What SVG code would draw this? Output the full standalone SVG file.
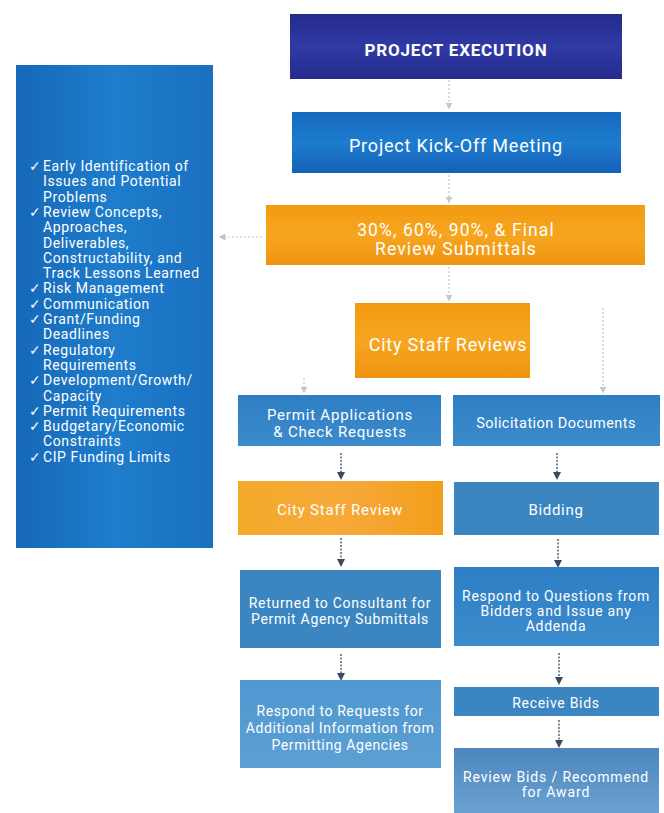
<svg xmlns="http://www.w3.org/2000/svg" width="664" height="813" viewBox="0 0 664 813">
<style>
.t{font-family:Roboto,"Liberation Sans",sans-serif;fill:#fff;text-anchor:middle;letter-spacing:0.7px}
.b{font-size:18px;letter-spacing:0.8px}
.s{font-size:14.5px;letter-spacing:0.45px}
.l{font-family:Roboto,"Liberation Sans",sans-serif;fill:#fff;font-size:14px;letter-spacing:0.6px}
.c{fill:none;stroke:#3b4a62;stroke-width:1.3;stroke-dasharray:2 1.5}
.f{fill:none;stroke:#9aa3b0;stroke-width:1.2;stroke-dasharray:2 2;opacity:0.6}
</style>
<defs>
<marker id="ah" markerWidth="8" markerHeight="8" refX="4" refY="4" orient="auto" markerUnits="userSpaceOnUse"><path d="M0,0 L8,4 L0,8 z" fill="#3b4a62"/></marker>
<marker id="af" markerWidth="7" markerHeight="7" refX="3.5" refY="3.5" orient="auto" markerUnits="userSpaceOnUse"><path d="M0,0 L7,3.5 L0,7 z" fill="#9aa3b0"/></marker>
<linearGradient id="gDark" x1="0" y1="0" x2="0" y2="1"><stop offset="0" stop-color="#252b8c"/><stop offset="0.5" stop-color="#2f3aa6"/><stop offset="1" stop-color="#252b8c"/></linearGradient>
<linearGradient id="gBlue" x1="0" y1="0" x2="0" y2="1"><stop offset="0" stop-color="#1668be"/><stop offset="0.5" stop-color="#1d7ccd"/><stop offset="1" stop-color="#1660b8"/></linearGradient>
<linearGradient id="gOr" x1="0" y1="0" x2="0" y2="1"><stop offset="0" stop-color="#f29a12"/><stop offset="0.5" stop-color="#f7a51f"/><stop offset="1" stop-color="#ef9410"/></linearGradient>
<linearGradient id="gOr2" x1="0" y1="0" x2="1" y2="0"><stop offset="0" stop-color="#f3aa2a"/><stop offset="0.5" stop-color="#f6a93a"/><stop offset="1" stop-color="#f39e1b"/></linearGradient>
<linearGradient id="gPanel" x1="0" y1="0" x2="1" y2="0"><stop offset="0" stop-color="#1668b8"/><stop offset="0.5" stop-color="#1e7dcc"/><stop offset="1" stop-color="#1a70bf"/></linearGradient>
<linearGradient id="gMid" x1="0" y1="0" x2="0" y2="1"><stop offset="0" stop-color="#2e7ec4"/><stop offset="1" stop-color="#3b8bcc"/></linearGradient>
<linearGradient id="gLight" x1="0" y1="0" x2="0" y2="1"><stop offset="0" stop-color="#4f98cf"/><stop offset="1" stop-color="#5c9fd3"/></linearGradient>
<linearGradient id="gGrey" x1="0" y1="0" x2="0" y2="1"><stop offset="0" stop-color="#4d86bd"/><stop offset="1" stop-color="#6aa2d2"/></linearGradient>
</defs>

<g id="connectors">
<line class="f" x1="262" y1="237" x2="222" y2="237" marker-end="url(#af)"/>
<line class="f" x1="449" y1="80" x2="449" y2="106" marker-end="url(#af)"/>
<line class="f" x1="449" y1="175" x2="449" y2="200" marker-end="url(#af)"/>
<line class="f" x1="449" y1="267" x2="449" y2="298" marker-end="url(#af)"/>
<line class="f" x1="304" y1="378" x2="304" y2="390" marker-end="url(#af)"/>
<line class="f" x1="603" y1="308" x2="603" y2="390" marker-end="url(#af)"/>
<line class="c" x1="341" y1="453" x2="341" y2="476" marker-end="url(#ah)"/>
<line class="c" x1="341" y1="538" x2="341" y2="563" marker-end="url(#ah)"/>
<line class="c" x1="341" y1="654" x2="341" y2="677" marker-end="url(#ah)"/>
<line class="c" x1="557" y1="453" x2="557" y2="476" marker-end="url(#ah)"/>
<line class="c" x1="558" y1="539" x2="558" y2="564" marker-end="url(#ah)"/>
<line class="c" x1="559" y1="653" x2="559" y2="681" marker-end="url(#ah)"/>
<line class="c" x1="559" y1="720" x2="559" y2="744" marker-end="url(#ah)"/>
</g>

<g id="panel">
<rect x="16" y="65" width="197" height="483" fill="url(#gPanel)"/>
<text class="l">
<tspan x="29" y="171">✓</tspan><tspan x="43" y="171">Early Identification of</tspan>
<tspan x="43" y="186.3">Issues and Potential</tspan>
<tspan x="43" y="201.6">Problems</tspan>
<tspan x="29" y="216.9">✓</tspan><tspan x="43" y="216.9">Review Concepts,</tspan>
<tspan x="43" y="232.2">Approaches,</tspan>
<tspan x="43" y="247.5">Deliverables,</tspan>
<tspan x="43" y="262.8">Constructability, and</tspan>
<tspan x="43" y="278.1">Track Lessons Learned</tspan>
<tspan x="29" y="293.4">✓</tspan><tspan x="43" y="293.4">Risk Management</tspan>
<tspan x="29" y="308.7">✓</tspan><tspan x="43" y="308.7">Communication</tspan>
<tspan x="29" y="324">✓</tspan><tspan x="43" y="324">Grant/Funding</tspan>
<tspan x="43" y="339.3">Deadlines</tspan>
<tspan x="29" y="354.6">✓</tspan><tspan x="43" y="354.6">Regulatory</tspan>
<tspan x="43" y="369.9">Requirements</tspan>
<tspan x="29" y="385.2">✓</tspan><tspan x="43" y="385.2">Development/Growth/</tspan>
<tspan x="43" y="400.5">Capacity</tspan>
<tspan x="29" y="415.8">✓</tspan><tspan x="43" y="415.8">Permit Requirements</tspan>
<tspan x="29" y="431.1">✓</tspan><tspan x="43" y="431.1">Budgetary/Economic</tspan>
<tspan x="43" y="446.4">Constraints</tspan>
<tspan x="29" y="461.7">✓</tspan><tspan x="43" y="461.7">CIP Funding Limits</tspan>
</text>
</g>

<g id="execution">
<rect x="290" y="14" width="332" height="65" fill="url(#gDark)"/>
<text class="t" x="456" y="56" font-size="17" font-weight="bold" style="letter-spacing:0.8px">PROJECT EXECUTION</text>
</g>

<g id="kickoff">
<rect x="292" y="112" width="329" height="61" fill="url(#gBlue)"/>
<text class="t b" x="456" y="152">Project Kick-Off Meeting</text>
</g>

<g id="submittals">
<rect x="266" y="205" width="379" height="60" fill="url(#gOr)"/>
<text class="t" font-size="17.5" style="letter-spacing:1.1px"><tspan x="456" y="236">30%, 60%, 90%, &amp; Final</tspan><tspan x="456" y="254.5">Review Submittals</tspan></text>
</g>

<g id="cityreviews">
<rect x="355" y="303" width="175" height="75" fill="url(#gOr)"/>
<text class="t b" x="448" y="351">City Staff Reviews</text>
</g>

<g id="permitapps">
<rect x="238" y="395" width="203" height="51" fill="url(#gMid)"/>
<text class="t" font-size="15" style="letter-spacing:0.8px"><tspan x="340" y="420">Permit Applications</tspan><tspan x="340" y="437">&amp; Check Requests</tspan></text>
</g>

<g id="solicitation">
<rect x="453" y="395" width="207" height="51" fill="url(#gMid)"/>
<text class="t s" x="556" y="428">Solicitation Documents</text>
</g>

<g id="cityreview">
<rect x="238" y="481" width="205" height="54" fill="url(#gOr2)"/>
<text class="t" font-size="15" x="340" y="515" style="letter-spacing:0.8px">City Staff Review</text>
</g>

<g id="bidding">
<rect x="454" y="482" width="205" height="53" fill="#3b86c1"/>
<text class="t" font-size="15" x="556" y="515">Bidding</text>
</g>

<g id="returned">
<rect x="240" y="570" width="201" height="78" fill="#3b86c1"/>
<text class="t" font-size="14"><tspan x="340" y="608">Returned to Consultant for</tspan><tspan x="340" y="624">Permit Agency Submittals</tspan></text>
</g>

<g id="questions">
<rect x="454" y="567" width="205" height="79" fill="url(#gMid)"/>
<text class="t" font-size="14"><tspan x="556" y="601">Respond to Questions from</tspan><tspan x="556" y="616">Bidders and Issue any</tspan><tspan x="556" y="631">Addenda</tspan></text>
</g>

<g id="requests">
<rect x="240" y="680" width="201" height="88" fill="url(#gLight)"/>
<text class="t" font-size="14" style="letter-spacing:0.6px"><tspan x="340" y="716">Respond to Requests for</tspan><tspan x="340" y="733">Additional Information from</tspan><tspan x="340" y="750">Permitting Agencies</tspan></text>
</g>

<g id="receive">
<rect x="454" y="687" width="205" height="29" fill="#3b86c1"/>
<text class="t" font-size="14" x="556" y="708">Receive Bids</text>
</g>

<g id="reviewbids">
<rect x="454" y="748" width="205" height="65" fill="url(#gGrey)"/>
<text class="t" font-size="14" style="letter-spacing:0.85px"><tspan x="556" y="782">Review Bids / Recommend</tspan><tspan x="556" y="797">for Award</tspan></text>
</g>
</svg>
